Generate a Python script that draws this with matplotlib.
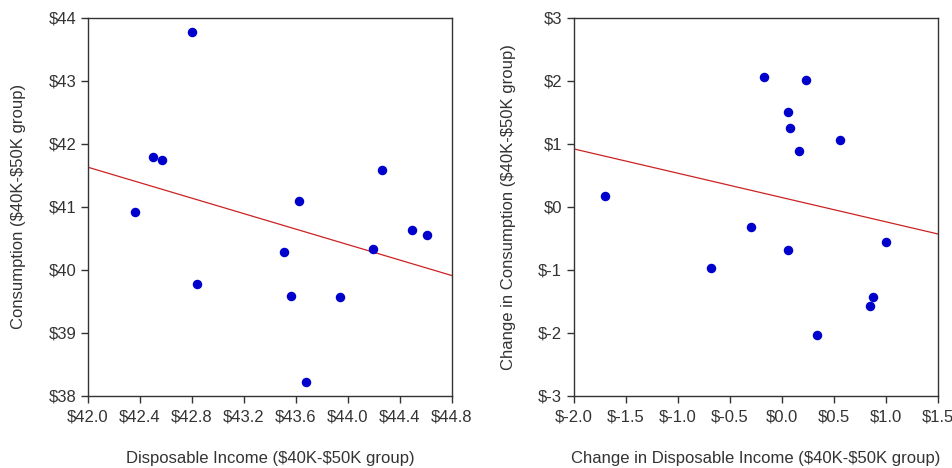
import matplotlib
matplotlib.use("Agg")
import matplotlib.pyplot as plt
import numpy as np

plt.rcParams['font.family'] = ['Liberation Sans', 'DejaVu Sans']

# Left panel: levels
income = [42.36, 42.50, 42.57, 42.80, 42.84, 43.51, 43.56, 43.62, 43.68,
          43.94, 44.19, 44.26, 44.49, 44.61]
consumption = [40.92, 41.80, 41.75, 43.77, 39.78, 40.28, 39.59, 41.09, 38.22,
               39.57, 40.34, 41.59, 40.63, 40.56]

# Right panel: changes
d_income = [-1.70, -0.68, -0.30, -0.17, 0.06, 0.06, 0.08, 0.16, 0.23,
            0.34, 0.56, 0.85, 0.87, 1.00]
d_consumption = [0.18, -0.97, -0.32, 2.06, 1.50, -0.69, 1.26, 0.89, 2.02,
                 -2.03, 1.06, -1.57, -1.43, -0.56]

# fitted lines as shown (value at left edge, value at right edge)
fit_left = [41.63, 39.91]
fit_right = [0.92, -0.43]

left_xticks = [42.0, 42.4, 42.8, 43.2, 43.6, 44.0, 44.4, 44.8]
left_yticks = [38, 39, 40, 41, 42, 43, 44]
right_xticks = [-2.0, -1.5, -1.0, -0.5, 0.0, 0.5, 1.0, 1.5]
right_yticks = [-3, -2, -1, 0, 1, 2, 3]


def money(v, fmt):
    s = format(v, fmt)
    if s.startswith('-'):
        return '\\$-' + s[1:]
    return '\\$' + s


def style(ax):
    for sp in ax.spines.values():
        sp.set_color('#333333')
        sp.set_linewidth(1.0)
    ax.tick_params(direction='out', length=5, width=1, color='#333333',
                   labelsize=12, labelcolor='#333333', top=False, right=False)
    ax.tick_params(axis='x', pad=5)


fig = plt.figure(figsize=(9.52, 4.68), dpi=100)
ax1 = fig.add_axes([0.0924, 0.154, 0.3824, 0.8077])
ax2 = fig.add_axes([0.6030, 0.154, 0.3824, 0.8077])

# left
ax1.scatter(income, consumption, s=34, color='#0000CC', zorder=3)
ax1.plot([left_xticks[0], left_xticks[-1]], fit_left, color='#CC2222', lw=0.9)
ax1.set_xlim(left_xticks[0], left_xticks[-1])
ax1.set_ylim(left_yticks[0], left_yticks[-1])
ax1.set_xticks(left_xticks)
ax1.set_xticklabels([money(v, '.1f') for v in left_xticks])
ax1.set_yticks(left_yticks)
ax1.set_yticklabels([money(v, 'd') for v in left_yticks])
ax1.set_xlabel('Disposable Income (\\$40K-\\$50K group)', fontsize=12,
               color='#333333', labelpad=19)
ax1.set_ylabel('Consumption (\\$40K-\\$50K group)', fontsize=12,
               color='#333333', labelpad=16)
style(ax1)

# right
ax2.scatter(d_income, d_consumption, s=34, color='#0000CC', zorder=3)
ax2.plot([right_xticks[0], right_xticks[-1]], fit_right, color='#CC2222', lw=0.9)
ax2.set_xlim(right_xticks[0], right_xticks[-1])
ax2.set_ylim(right_yticks[0], right_yticks[-1])
ax2.set_xticks(right_xticks)
ax2.set_xticklabels([money(v, '.1f') for v in right_xticks])
ax2.set_yticks(right_yticks)
ax2.set_yticklabels([money(v, 'd') for v in right_yticks])
ax2.set_xlabel('Change in Disposable Income (\\$40K-\\$50K group)', fontsize=12,
               color='#333333', labelpad=19)
ax2.set_ylabel('Change in Consumption (\\$40K-\\$50K group)', fontsize=12,
               color='#333333', labelpad=16)
style(ax2)

fig.savefig('out.png', dpi=100)
